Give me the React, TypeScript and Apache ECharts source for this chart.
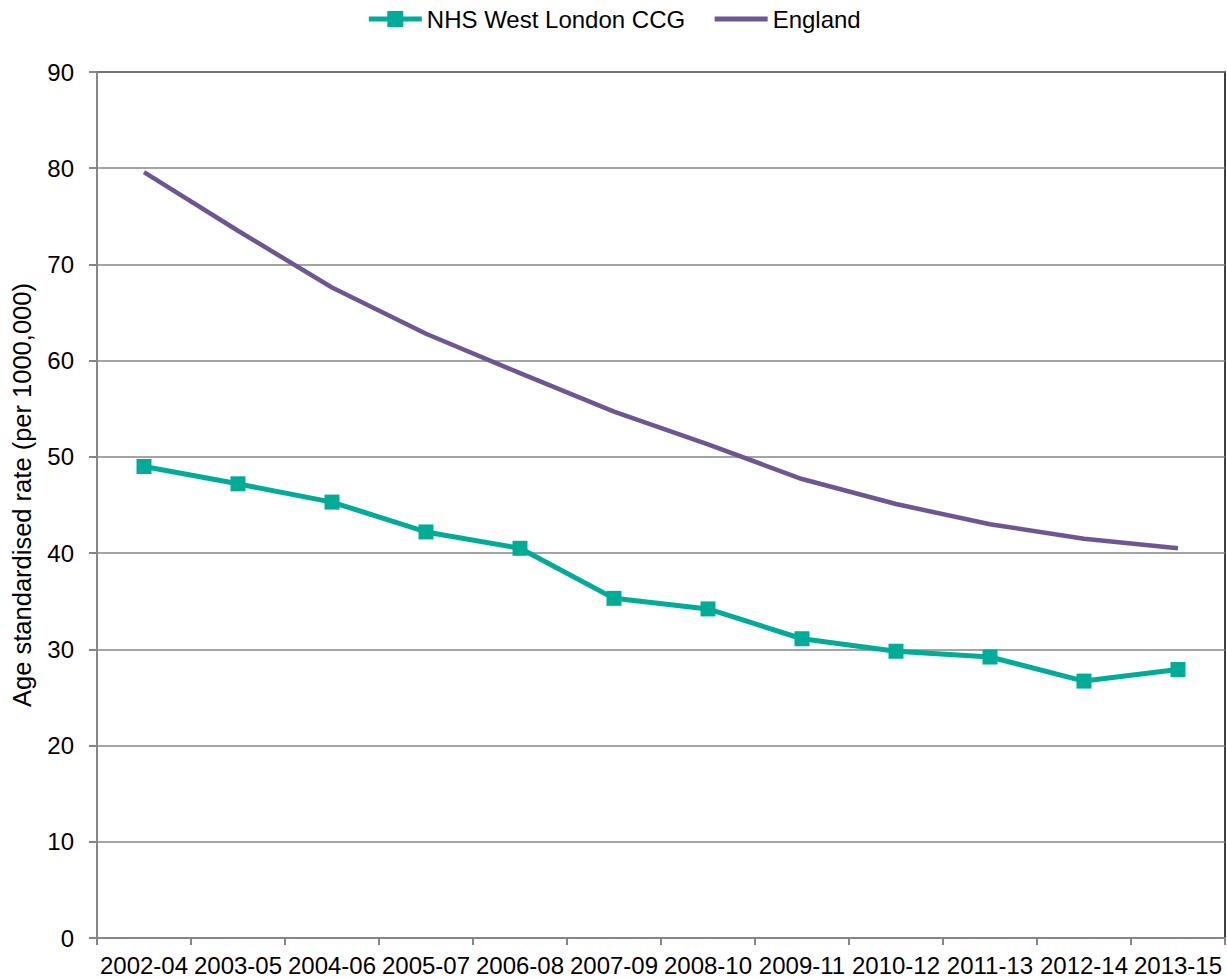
import React, { useEffect, useRef } from "react";
import * as echarts from "echarts";

const categories = ["2002-04", "2003-05", "2004-06", "2005-07", "2006-08", "2007-09", "2008-10", "2009-11", "2010-12", "2011-13", "2012-14", "2013-15"];
const westLondon = [49.0, 47.2, 45.3, 42.2, 40.5, 35.3, 34.2, 31.1, 29.8, 29.2, 26.7, 27.9];
const england = [79.6, 73.5, 67.6, 62.8, 58.7, 54.7, 51.3, 47.7, 45.1, 43.0, 41.5, 40.5];

const TEAL = "#00AB98";
const PURPLE = "#6E5692";
const GRAY = "#868686";
const FONT = "Liberation Sans, Arial, sans-serif";

export default function App() {
  const ref = useRef<HTMLDivElement>(null);
  useEffect(() => {
    if (!ref.current) return;
    const chart = echarts.init(ref.current, null, { renderer: "svg" });
    chart.setOption({
      animation: false,
      backgroundColor: "#ffffff",
      textStyle: { fontFamily: FONT },
      legend: {
        top: 2,
        left: "center",
        itemWidth: 53,
        itemHeight: 20,
        itemGap: 27,
        lineStyle: { width: 5 },
        textStyle: { fontSize: 24, color: "#000", fontFamily: FONT },
        data: [
          { name: "NHS West London CCG" },
          { name: "England", itemStyle: { opacity: 0 } },
        ],
      },
      grid: {
        left: 97,
        right: 2,
        top: 72,
        bottom: 40,
        show: true,
        borderColor: "#000",
        borderWidth: 1.5,
        backgroundColor: "transparent",
      },
      xAxis: {
        type: "category",
        data: categories,
        boundaryGap: true,
        axisLine: { show: true, lineStyle: { color: GRAY, width: 2 } },
        axisTick: { show: true, length: 7, lineStyle: { color: GRAY, width: 2 } },
        axisLabel: { color: "#000", fontSize: 24, margin: 15, fontFamily: FONT, interval: 0 },
        splitLine: { show: false },
      },
      yAxis: {
        type: "value",
        min: 0,
        max: 90,
        interval: 10,
        name: "Age standardised rate (per 1000,000)",
        nameLocation: "middle",
        nameGap: 62,
        nameTextStyle: { color: "#000", fontSize: 25.5, fontFamily: FONT, padding: [0, 0, 0, 20] },
        axisLine: { show: true, lineStyle: { color: GRAY, width: 2 } },
        axisTick: { show: true, length: 8, lineStyle: { color: GRAY, width: 2 } },
        axisLabel: { color: "#000", fontSize: 24, margin: 23, fontFamily: FONT },
        splitLine: { show: true, lineStyle: { color: GRAY, width: 1.5 } },
      },
      series: [
        {
          name: "NHS West London CCG",
          type: "line",
          data: westLondon,
          symbol: "rect",
          symbolSize: 15,
          lineStyle: { color: TEAL, width: 5 },
          itemStyle: { color: TEAL },
        },
        {
          name: "England",
          type: "line",
          data: england,
          symbol: "none",
          lineStyle: { color: PURPLE, width: 4.5 },
          itemStyle: { color: PURPLE },
        },
      ],
    });
    return () => chart.dispose();
  }, []);
  return (
    <div
      ref={ref}
      style={{ position: "fixed", left: 0, top: 0, width: 1227, height: 978 }}
    />
  );
}
